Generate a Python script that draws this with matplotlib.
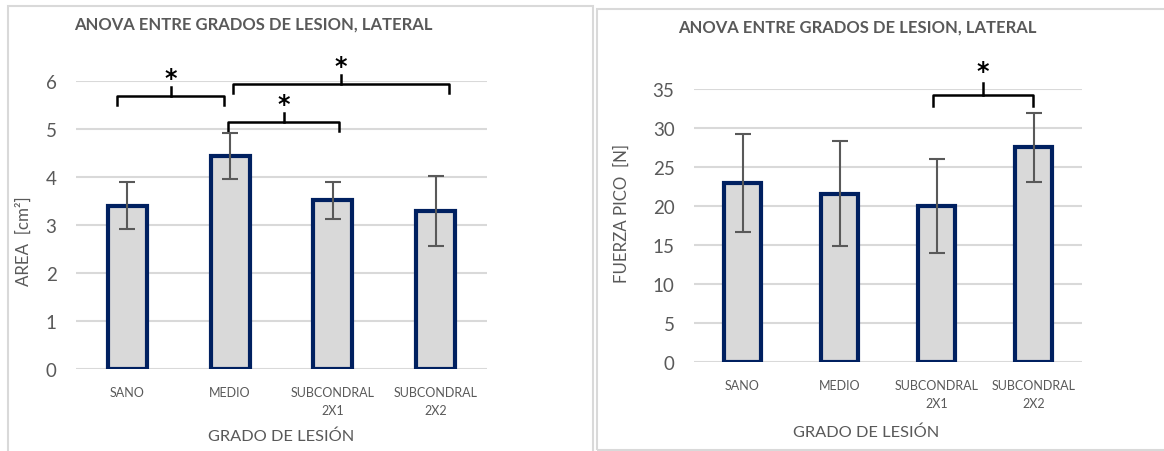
import matplotlib
matplotlib.use("Agg")
import matplotlib.pyplot as plt
from matplotlib.patches import Rectangle
import numpy as np

plt.rcParams["font.family"] = ["Lato", "DejaVu Sans"]

categories = ["SANO", "MEDIO", "SUBCONDRAL\n2X1", "SUBCONDRAL\n2X2"]

# Área de contacto, compartimento lateral
area_mean = [3.40, 4.44, 3.51, 3.29]
area_sd = [0.49, 0.48, 0.38, 0.72]

# Fuerza pico, compartimento lateral
force_mean = [22.96, 21.60, 20.05, 27.53]
force_sd = [6.27, 6.76, 6.00, 4.42]

# Comparaciones significativas: (desde, hasta, nivel de la barra)
area_pairs = [(-0.10, 0.94, 5.69), (0.98, 2.06, 5.15), (1.03, 3.13, 5.94)]
force_pairs = [(1.96, 2.99, 34.26)]

title = "ANOVA ENTRE GRADOS DE LESION, LATERAL"

W, H = 1164, 452
fig = plt.figure(figsize=(W / 100, H / 100), dpi=100)

GRID = "#D9D9D9"
TEXT = "#595959"
FILL = "#D9D9D9"
EDGE = "#002060"


def box(x0, y0, x1, y1):
    """Axes rect from pixel coordinates (top-left origin)."""
    return [x0 / W, 1 - y1 / H, (x1 - x0) / W, (y1 - y0) / H]


def ftext(x, y, s, **kw):
    fig.text(x / W, 1 - y / H, s, **kw)


def bracket(ax, x0, x1, y, leg, tick, star_gap):
    xm = (x0 + x1) / 2
    ax.plot([x0, x0, x1, x1], [y - leg, y, y, y - leg], color="black",
            lw=1.8, clip_on=False, solid_joinstyle="round")
    ax.plot([xm, xm], [y, y + tick], color="black", lw=1.8, clip_on=False)
    ax.text(xm, y + tick + star_gap, "*", ha="center", va="center",
            fontsize=17, fontweight="bold", color="black", clip_on=False,
            family="DejaVu Sans")


def draw(ax, means, sds, ymax, ystep):
    x = np.arange(len(categories))
    ax.bar(x, means, width=0.38, color=FILL, edgecolor=EDGE, linewidth=3.0,
           zorder=3)
    ax.errorbar(x, means, yerr=sds, fmt="none", ecolor=TEXT, elinewidth=1.5,
                capsize=6, capthick=1.5, zorder=4)
    ax.set_xlim(-0.5, len(categories) - 0.5)
    ax.set_ylim(0, ymax)
    ax.set_yticks(np.arange(0, ymax + ystep / 2, ystep))
    ax.yaxis.grid(True, color=GRID, lw=1.5, zorder=0)
    ax.set_axisbelow(True)
    for s in ax.spines.values():
        s.set_visible(False)
    ax.set_xticks(x)
    ax.set_xticklabels(categories, fontsize=9, color=TEXT, linespacing=1.6)
    ax.tick_params(axis="x", length=0, pad=12)
    ax.tick_params(axis="y", length=0, labelsize=13.5, labelcolor=TEXT, pad=14)


# Marcos de cada gráfico
fig.patches.append(Rectangle((8 / W, -0.05), 585 / W, 1.05 - 7 / H,
                             transform=fig.transFigure, fill=False,
                             edgecolor=GRID, lw=1.5))
fig.patches.append(Rectangle((597 / W, 1 - 451 / H), 1.0, 441 / H,
                             transform=fig.transFigure, fill=False,
                             edgecolor=GRID, lw=1.5))

# Área
ax1 = fig.add_axes(box(76, 81.7, 487, 370))
draw(ax1, area_mean, area_sd, 6, 1)
for x0, x1, y in area_pairs:
    bracket(ax1, x0, x1, y, 0.2, 0.17, 0.2)
ftext(253, 25, title, ha="center", va="center", fontsize=12,
      fontweight="bold", color=TEXT)
ftext(281, 437, "GRADO DE LESIÓN", ha="center", va="center", fontsize=11.8,
      color=TEXT)
ftext(24, 241, "AREA  [cm²]", ha="center", va="center", rotation=90,
      fontsize=12.2, color=TEXT)

# Fuerza
ax2 = fig.add_axes(box(694, 90, 1082, 363.3))
draw(ax2, force_mean, force_sd, 35, 5)
for x0, x1, y in force_pairs:
    bracket(ax2, x0, x1, y, 1.4, 1.5, 1.6)
ftext(857, 28, title, ha="center", va="center", fontsize=12,
      fontweight="bold", color=TEXT)
ftext(866, 433, "GRADO DE LESIÓN", ha="center", va="center", fontsize=11.8,
      color=TEXT)
ftext(622, 214, "FUERZA PICO  [N]", ha="center", va="center", rotation=90,
      fontsize=12.2, color=TEXT)

fig.savefig("out.png", dpi=100, facecolor="white")
